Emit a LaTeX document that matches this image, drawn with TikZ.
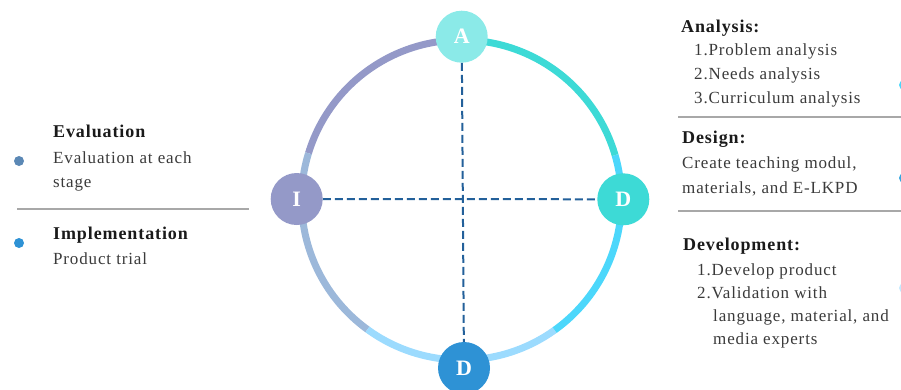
\documentclass[tikz,border=0pt]{standalone}
\usepackage{fontspec}
\setmainfont{Liberation Serif}[LetterSpace=5]
\definecolor{cPurple}{HTML}{9499C8}
\definecolor{cSteel}{HTML}{9CB8DA}
\definecolor{cPale}{HTML}{9CDBFE}
\definecolor{cSky}{HTML}{4CD7FB}
\definecolor{cTurq}{HTML}{3DDAD6}
\definecolor{cAnode}{HTML}{8BEAE8}
\definecolor{cDnode}{HTML}{2E92D5}
\definecolor{cDash}{HTML}{23609A}
\definecolor{cBody}{HTML}{3A3A3A}
\definecolor{cHead}{HTML}{1A1A1A}
\definecolor{cRule}{HTML}{A8A8A8}
\definecolor{cDotA}{HTML}{5B88B5}
\tikzset{
  ring/.style={line width=7pt, line cap=butt},
  stage/.style={circle, minimum size=52pt, inner sep=0pt, text=white,
    font=\fontsize{22}{22}\selectfont\bfseries},
  dashline/.style={cDash, line width=2pt, dash pattern=on 8pt off 4pt},
  body/.style={anchor=base west, inner sep=0pt, text=cBody,
    font=\fontsize{17}{20}\selectfont},
  head/.style={anchor=base west, inner sep=0pt, text=cHead,
    font=\fontsize{18}{21}\selectfont\bfseries},
  rule/.style={cRule, line width=1.5pt},
  bullet/.style={circle, inner sep=0pt, minimum size=10pt}
}
\begin{document}
\begin{tikzpicture}[x=1pt,y=-1pt]
\useasboundingbox (0,0) rectangle (901,389);
\coordinate (C) at (461.5,200);
% ring segments
\draw[ring, cPurple] (C) ++(-90:160) arc[start angle=-90, end angle=-163, radius=160];
\draw[ring, cSteel] (C) ++(-163:160) arc[start angle=-163, end angle=-234, radius=160];
\draw[ring, cPale] (C) ++(-234:160) arc[start angle=-234, end angle=-305.6, radius=160];
\draw[ring, cSky] (C) ++(-305.6:160) arc[start angle=-305.6, end angle=-376.3, radius=160];
\draw[ring, cTurq] (C) ++(-16.3:160) arc[start angle=-16.3, end angle=-90, radius=160];
% stage nodes
\node[stage, fill=cAnode] (A) at (461.7,36.7) {A};
\node[stage, fill=cPurple] (I) at (296.7,199) {I};
\node[stage, fill=cTurq] (Dr) at (623.3,199.3) {D};
\node[stage, fill=cDnode] (Db) at (464,368) {D};
% dashed axes
\draw[dashline] (A) -- (Db);
\draw[dashline] (I) -- (Dr);
% left side
\node[bullet, fill=cDotA] (b1) at (19,161) {};
\node[bullet, fill=cDnode] (b2) at (19,243) {};
\node[head] (evh) at (53,137) {Evaluation};
\node[body] (ev1) at (53,163) {Evaluation at each};
\node[body] (ev2) at (53,187) {stage};
\coordinate (l1a) at (17,209);
\coordinate (l1b) at (249,209);
\draw[rule] (l1a) -- (l1b);
\node[head] (imh) at (53,239) {Implementation};
\node[body] (im1) at (53,264) {Product trial};
% right side
\node[head] (anh) at (681,32) {Analysis:};
\node[body] (an1) at (694,55) {1.Problem analysis};
\node[body] (an2) at (694,79) {2.Needs analysis};
\node[body] (an3) at (694,103) {3.Curriculum analysis};
\coordinate (r1a) at (678,117);
\coordinate (r1b) at (901,117);
\draw[rule] (r1a) -- (r1b);
\node[head] (deh) at (682,143) {Design:};
\node[body] (de1) at (682,168) {Create teaching modul,};
\node[body] (de2) at (682,193) {materials, and E-LKPD};
\coordinate (r2a) at (678,211);
\coordinate (r2b) at (901,211);
\draw[rule] (r2a) -- (r2b);
\node[head] (dvh) at (683,250) {Development:};
\node[body] (dv1) at (697,275) {1.Develop product};
\node[body] (dv2) at (697,298) {2.Validation with};
\node[body] (dv3) at (713,321) {language, material, and};
\node[body] (dv4) at (713,344) {media experts};
% clipped bullets at right edge
\node[bullet, fill=cSky] (rb1) at (904,85) {};
\node[bullet, fill=cDnode!70!cSky] (rb2) at (904,178) {};
\node[bullet, fill=cPale!60] (rb3) at (904,288) {};
\end{tikzpicture}
\end{document}
